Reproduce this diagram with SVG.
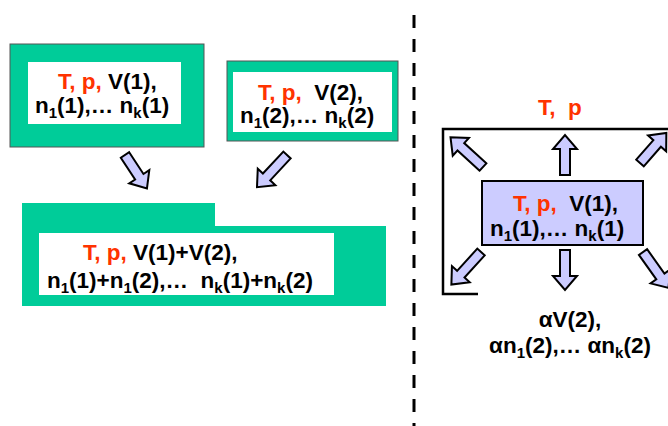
<svg xmlns="http://www.w3.org/2000/svg" width="668" height="426" viewBox="0 0 668 426">
<style>
text{font-family:"Liberation Sans",Arial,sans-serif;font-weight:bold;font-size:22.5px;fill:#000;white-space:pre}
.r{fill:#FF3300}
.s{font-size:15px}
.green{fill:#00CC99;stroke:#555;stroke-width:1}
.white{fill:#fff}
.arr{fill:#CCCCFF;stroke:#000;stroke-width:2;stroke-linejoin:miter}
</style>
<defs>
<path id="a40" d="M0,-5 L26,-5 L26,-12 L40,0 L26,12 L26,5 L0,5 Z"/>
<path id="a44" d="M0,-5 L30,-5 L30,-12 L44,0 L30,12 L30,5 L0,5 Z"/>
</defs>
<rect width="668" height="426" fill="#fff"/>
<line x1="414" y1="15" x2="414" y2="426" stroke="#000" stroke-width="3" stroke-dasharray="13 11"/>

<g id="box1">
<rect class="green" x="10" y="44" width="194" height="103"/>
<rect class="white" x="28" y="62" width="153" height="62"/>
<text x="58" y="89" xml:space="preserve"><tspan class="r">T, p,</tspan> V(1),</text>
<text x="35" y="113">n<tspan class="s" dy="5">1</tspan><tspan dy="-5">(1),… n</tspan><tspan class="s" dy="5">k</tspan><tspan dy="-5">(1)</tspan></text>
</g>

<g id="box2">
<rect class="green" x="227" y="61" width="171" height="80"/>
<rect class="white" x="233" y="72" width="159" height="60"/>
<text x="258" y="100" xml:space="preserve"><tspan class="r">T, p,</tspan>  V(2),</text>
<text x="240" y="123">n<tspan class="s" dy="5">1</tspan><tspan dy="-5">(2),… n</tspan><tspan class="s" dy="5">k</tspan><tspan dy="-5">(2)</tspan></text>
</g>

<g id="box3">
<path fill="#00CC99" d="M22,203 L215,203 L215,226 L386,226 L386,306 L22,306 Z"/>
<rect class="white" x="39" y="233" width="295" height="62"/>
<text x="83" y="260" xml:space="preserve"><tspan class="r">T, p,</tspan> V(1)+V(2),</text>
<text x="47" y="288" xml:space="preserve">n<tspan class="s" dy="5">1</tspan><tspan dy="-5">(1)+n</tspan><tspan class="s" dy="5">1</tspan><tspan dy="-5">(2),…  n</tspan><tspan class="s" dy="5">k</tspan><tspan dy="-5">(1)+n</tspan><tspan class="s" dy="5">k</tspan><tspan dy="-5">(2)</tspan></text>
</g>

<g id="container">
<path d="M478,294 L443,294 L443,129 L672,129" fill="none" stroke="#000" stroke-width="2.5"/>
<text x="538" y="115" class="r" xml:space="preserve">T,  p</text>
</g>

<g id="system">
<rect x="482" y="181" width="161" height="64" fill="#CCCCFF" stroke="#000" stroke-width="2"/>
<text x="513" y="211" xml:space="preserve"><tspan class="r">T, p,</tspan>  V(1),</text>
<text x="490" y="236">n<tspan class="s" dy="5">1</tspan><tspan dy="-5">(1),… n</tspan><tspan class="s" dy="5">k</tspan><tspan dy="-5">(1)</tspan></text>
</g>

<g id="label2">
<text x="570" y="327" text-anchor="middle">αV(2),</text>
<text x="570" y="353" text-anchor="middle">αn<tspan class="s" dy="5">1</tspan><tspan dy="-5">(2),… αn</tspan><tspan class="s" dy="5">k</tspan><tspan dy="-5">(2)</tspan></text>
</g>

<g id="connectors">
<use href="#a40" class="arr" transform="translate(125,155) rotate(56.7)"/>
<use href="#a44" class="arr" transform="translate(287,155) rotate(133)"/>
<use href="#a40" class="arr" transform="translate(565,175) rotate(-90)"/>
<use href="#a40" class="arr" transform="translate(565,250) rotate(90)"/>
<use href="#a44" class="arr" transform="translate(483,167) rotate(-137.6)"/>
<use href="#a40" class="arr" transform="translate(640,163) rotate(-48.8)"/>
<use href="#a44" class="arr" transform="translate(481,252) rotate(132.3)"/>
<use href="#a44" class="arr" transform="translate(643,252) rotate(54.6)"/>
</g>
</svg>
